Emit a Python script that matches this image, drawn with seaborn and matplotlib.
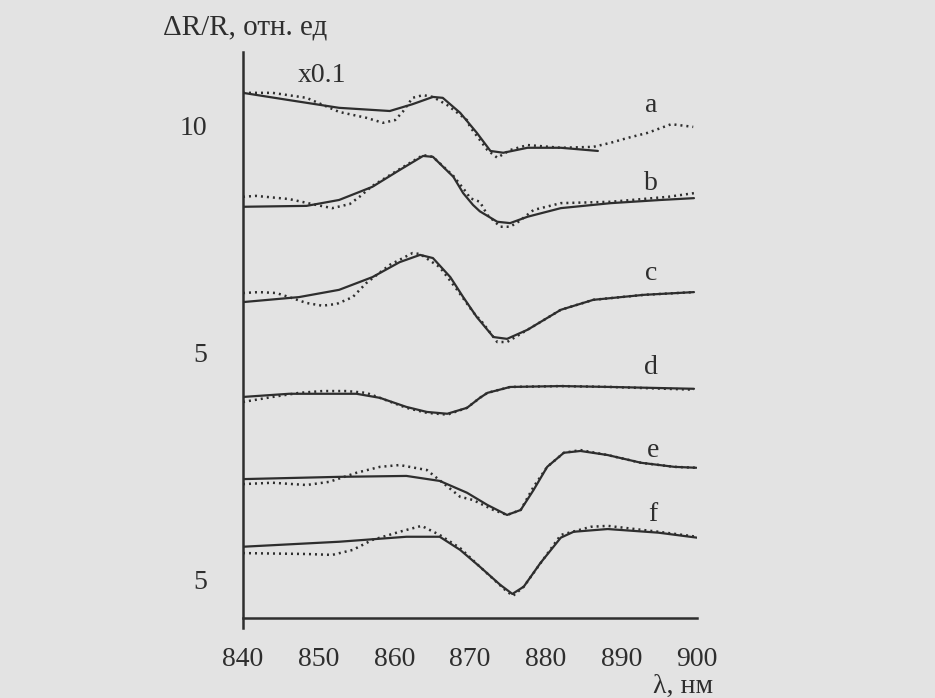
import pandas as pd
import numpy as np
import matplotlib
matplotlib.use("Agg")
import matplotlib.pyplot as plt
import seaborn as sns

# spectra, nm vs dR/R (curves shifted vertically), solid = calc, dotted = exp
a_sol_x = [840, 846.1, 852.7, 859.4, 862.4, 865.1, 866.4, 868.7, 870.9, 872.7, 874.4, 877.6, 882.0, 886.9]
a_sol_y = [10.73, 10.57, 10.40, 10.33, 10.48, 10.64, 10.62, 10.29, 9.85, 9.45, 9.41, 9.52, 9.52, 9.45]
a_dot_x = [840, 843.9, 848.4, 852.7, 856.3, 858.5, 860.1, 861.1, 862.4, 863.8, 865.1, 867.0, 869.6, 870.0,
           872.3, 873.6, 875.3, 877.6, 882.0, 886.3, 888.6, 890.9, 893.5, 896.6, 899.5]
a_dot_y = [10.73, 10.73, 10.62, 10.31, 10.18, 10.07, 10.13, 10.31, 10.62, 10.68, 10.64, 10.46, 10.13, 9.98,
           9.47, 9.30, 9.47, 9.58, 9.52, 9.54, 9.63, 9.74, 9.85, 10.04, 9.98]

b_sol_x = [840, 848.4, 852.7, 857.1, 860.7, 863.8, 865.1, 867.8, 869.1, 870.4, 871.3, 873.6, 875.3, 877.6, 882.0, 888.6, 895.2, 899.6]
b_sol_y = [8.22, 8.24, 8.37, 8.66, 9.03, 9.34, 9.32, 8.88, 8.52, 8.26, 8.12, 7.89, 7.86, 8.00, 8.19, 8.30, 8.37, 8.41]
b_dot_x = [840, 841.7, 846.1, 849.7, 851.8, 854.1, 855.4, 857.1, 860.7, 863.8, 865.1, 867.8, 869.6, 870.0,
           871.3, 872.3, 874.0, 875.3, 876.4, 878.4, 882.0, 888.6, 896.2, 899.6]
b_dot_y = [8.44, 8.46, 8.39, 8.26, 8.19, 8.28, 8.44, 8.68, 9.05, 9.36, 9.32, 8.90, 8.52, 8.41,
           8.33, 8.04, 7.78, 7.78, 7.89, 8.15, 8.30, 8.33, 8.44, 8.52]

c_sol_x = [840, 847.4, 852.7, 857.1, 860.7, 863.4, 865.1, 867.4, 869.1, 870.9, 873.1, 874.9, 877.6, 882.0, 886.3, 893.0, 899.6]
c_sol_y = [6.12, 6.23, 6.39, 6.67, 7.00, 7.16, 7.09, 6.67, 6.23, 5.79, 5.35, 5.31, 5.51, 5.95, 6.17, 6.28, 6.34]
c_dot_x = [840, 842.1, 844.4, 846.1, 848.4, 850.5, 852.4, 854.5, 856.3, 859.4, 862.4, 863.4, 866.0, 868.3,
           870.4, 871.7, 873.6, 874.9, 877.6, 882.0, 886.3, 893.0, 899.6]
c_dot_y = [6.32, 6.34, 6.32, 6.23, 6.10, 6.04, 6.08, 6.23, 6.54, 6.94, 7.20, 7.18, 6.89, 6.39,
           5.90, 5.66, 5.24, 5.24, 5.51, 5.95, 6.17, 6.28, 6.34]

d_sol_x = [840, 846.1, 855.0, 858.1, 861.6, 864.3, 867.0, 869.6, 871.3, 872.3, 875.3, 882.0, 888.6, 899.6]
d_sol_y = [4.03, 4.10, 4.10, 4.01, 3.81, 3.70, 3.66, 3.79, 4.01, 4.12, 4.25, 4.27, 4.25, 4.21]
d_dot_x = [840, 843.9, 847.4, 850.5, 853.7, 856.3, 858.1, 861.6, 864.3, 867.0, 869.6, 871.3, 872.3, 875.3, 882.0, 888.6, 899.6]
d_dot_y = [3.92, 4.03, 4.12, 4.16, 4.16, 4.12, 4.01, 3.79, 3.68, 3.64, 3.79, 4.01, 4.12, 4.25, 4.27, 4.25, 4.19]

e_sol_x = [840, 852.7, 861.6, 866.0, 869.6, 872.3, 874.9, 876.7, 878.4, 880.2, 882.4, 884.6, 888.2, 892.6, 897.0, 899.9]
e_sol_y = [2.22, 2.27, 2.29, 2.18, 1.92, 1.65, 1.43, 1.54, 1.98, 2.49, 2.80, 2.84, 2.75, 2.58, 2.49, 2.47]
e_dot_x = [840, 843.9, 848.4, 851.4, 855.0, 858.1, 860.7, 864.3, 866.4, 868.7, 870.4, 873.1, 874.9, 876.7,
           878.4, 880.2, 882.4, 884.6, 888.2, 892.6, 897.0, 899.9]
e_dot_y = [2.11, 2.14, 2.09, 2.16, 2.36, 2.49, 2.53, 2.42, 2.14, 1.83, 1.76, 1.54, 1.43, 1.54,
           2.05, 2.49, 2.80, 2.86, 2.75, 2.58, 2.49, 2.47]

f_sol_x = [840, 852.7, 861.6, 866.0, 868.7, 871.3, 874.0, 875.6, 877.1, 879.3, 882.0, 883.7, 888.2, 894.9, 900]
f_sol_y = [0.73, 0.84, 0.95, 0.95, 0.66, 0.29, -0.11, -0.31, -0.15, 0.37, 0.93, 1.06, 1.12, 1.04, 0.93]
f_dot_x = [840, 848.4, 851.8, 854.5, 857.1, 860.7, 863.6, 866.0, 868.7, 871.3, 874.9, 875.7, 877.1, 882.0, 886.0, 888.2, 894.9, 900]
f_dot_y = [0.59, 0.57, 0.55, 0.66, 0.88, 1.06, 1.19, 0.99, 0.70, 0.29, -0.26, -0.35, -0.15, 0.99, 1.17, 1.19, 1.06, 0.95]

curve_names = ["a", "b", "c", "d", "e", "f"]
label_x = [893.9, 893.9, 893.9, 893.9, 894.2, 894.2]
label_y = [10.46, 8.74, 6.76, 4.67, 2.86, 1.43]

ytick_pos = [10, 5, 0]
ytick_lab = ["10", "5", "5"]
xticks = [840, 850, 860, 870, 880, 890, 900]

sns.set_style("white")
plt.rcParams["font.family"] = ["Liberation Serif", "DejaVu Serif"]
bg = "#e3e3e3"
ink = "#2e2e2e"

fig = plt.figure(figsize=(9.35, 6.98), dpi=100, facecolor=bg)
ax = fig.add_axes([243/935, 1-618/698, 454/935, 566/698])
ax.set_facecolor(bg)

solids = [(a_sol_x, a_sol_y), (b_sol_x, b_sol_y), (c_sol_x, c_sol_y),
          (d_sol_x, d_sol_y), (e_sol_x, e_sol_y), (f_sol_x, f_sol_y)]
dots = [(a_dot_x, a_dot_y), (b_dot_x, b_dot_y), (c_dot_x, c_dot_y),
        (d_dot_x, d_dot_y), (e_dot_x, e_dot_y), (f_dot_x, f_dot_y)]

for (sx, sy), (dx, dy) in zip(solids, dots):
    sns.lineplot(x=sx, y=sy, ax=ax, color=ink, lw=1.6, sort=False)
    l = sns.lineplot(x=dx, y=dy, ax=ax, color=ink, lw=1.8, sort=False)
    l.lines[-1].set_linestyle((0, (0.8, 1.6)))

for n, x, y in zip(curve_names, label_x, label_y):
    ax.text(x, y, n, fontsize=20, color=ink, ha="center", va="center")

ax.set_xlim(840, 900)
ax.set_ylim(-0.84, 11.63)
ax.set_xticks(xticks)
ax.set_yticks(ytick_pos)
ax.set_yticklabels(ytick_lab)
ax.tick_params(axis="x", direction="out", length=8, width=1.6, colors=ink, labelsize=20, pad=13)
ax.tick_params(axis="y", direction="out", length=10, width=1.6, colors=ink, labelsize=20, pad=16)
for s in ["top", "right"]:
    ax.spines[s].set_visible(False)
for s in ["left", "bottom"]:
    ax.spines[s].set_color(ink)
    ax.spines[s].set_linewidth(1.8)
ax.spines["left"].set_bounds(-1.05, 11.63)
ax.set_xlabel("")
ax.set_ylabel("")

fig.text(163/935, 1-28/698, "ΔR/R, отн. ед", fontsize=21, color=ink, ha="left", va="center")
fig.text(322/935, 1-75/698, "x0.1", fontsize=20, color=ink, ha="center", va="center")
fig.text(683/935, 1-686/698, "λ, нм", fontsize=20, color=ink, ha="center", va="center")

fig.savefig("out.png", dpi=100, facecolor=bg)
